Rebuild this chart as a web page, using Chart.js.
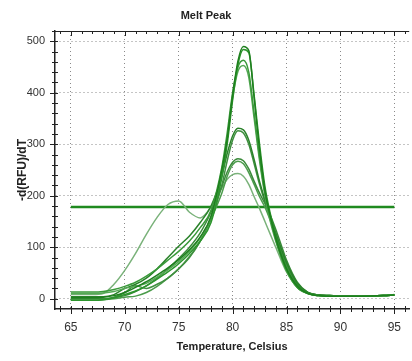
<!DOCTYPE html>
<html>
<head>
<meta charset="utf-8">
<script src="https://cdn.jsdelivr.net/npm/chart.js@4"></script>
<style>
  html, body { margin: 0; padding: 0; background: #fff; }
  #wrap { width: 412px; height: 361px; }
</style>
</head>
<body>
<div id="wrap"><canvas id="meltChart" width="412" height="361"></canvas></div>
<script>
// ---------- DATA ----------
const temps = [65,66,67,68,69,70,71,72,73,74,75,76,77,78,79,79.5,80,80.5,81,81.5,82,82.5,83,83.5,84,84.5,85,86,87,88,89,90,92,94,95];

const wellA = [2,2,2,3,6,12,22,33,46,60,76,95,120,160,250,310,395,462,490,482,390,290,210,160,118,85,58,24,10,6,5,5,5,6,7];
const wellB = [-3,-3,-3,-2,2,8,15,25,38,52,68,88,112,148,235,300,385,455,484,478,395,300,218,165,122,88,60,25,10,6,5,5,5,6,7];
const wellC = [13,13,13,14,18,24,32,44,58,75,92,112,138,172,255,322,400,450,463,440,360,275,205,155,115,82,55,22,10,6,5,5,5,6,8];
const wellD = [10,10,10,11,14,20,24,30,42,56,72,92,118,158,240,310,390,442,453,430,350,268,200,150,112,80,54,22,10,6,5,5,5,6,7];
const wellE = [4,4,4,4,8,20,28,40,58,80,102,122,148,180,238,282,316,331,328,308,270,228,192,160,128,98,70,30,12,7,6,5,5,6,7];
const wellF = [0,0,0,0,3,12,25,20,28,40,58,80,112,155,220,268,308,326,322,300,262,222,188,158,126,96,68,28,11,7,6,5,5,6,7];
const wellG = [0,0,0,0,2,6,14,25,40,58,78,100,128,168,218,246,265,272,268,252,228,205,185,162,135,105,75,32,12,7,6,5,5,6,7];
const wellH = [-3,-3,-3,-2,0,3,5,12,24,40,58,82,112,155,205,238,260,267,262,245,222,198,178,152,122,92,64,28,11,7,6,5,5,6,7];
const wellI = [8,8,8,10,28,55,88,125,158,183,190,168,157,178,215,232,241,243,238,222,198,175,150,125,100,75,52,22,10,6,5,5,5,6,7];

const wells = [wellA, wellB, wellC, wellD, wellE, wellF, wellG, wellH, wellI];
const wellColors = ['#1e7f1e','#2c952c','#3a9a3a','#55a855','#2a822a','#3f8f3f','#3a8a3a','#4c9c4c','#7ab27a'];

const thresholdY = 178;
const thresholdSpan = [65, 95];

const xTicks = [65,70,75,80,85,90,95];
const yTicks = [0,100,200,300,400,500];

const FONT = "'Liberation Sans', Arial, sans-serif";

// minor tick marks + top border (drawn through the scales)
const tickMarks = {
  id: 'tickMarks',
  afterDraw(chart) {
    const {ctx, chartArea: a, scales: {x, y}} = chart;
    ctx.save();
    ctx.strokeStyle = '#222';
    ctx.lineWidth = 1;
    ctx.beginPath(); ctx.moveTo(a.left, a.top + 0.5); ctx.lineTo(a.right, a.top + 0.5); ctx.stroke();
    ctx.beginPath();
    for (let t = 64; t <= 96; t++) {
      const px = Math.round(x.getPixelForValue(t)) + 0.5;
      const major = t % 5 === 0;
      ctx.moveTo(px, a.bottom - 3); ctx.lineTo(px, a.bottom + (major ? 5 : 3));
      ctx.moveTo(px, a.top); ctx.lineTo(px, a.top + (major ? 5 : 3));
    }
    for (let v = -20; v <= 520; v += 20) {
      const py = Math.round(y.getPixelForValue(v)) + 0.5;
      if (py < a.top || py > a.bottom) continue;
      const major = v % 100 === 0;
      ctx.moveTo(a.left - (major ? 5 : 3), py); ctx.lineTo(a.left + 3, py);
    }
    ctx.stroke();
    ctx.restore();
  }
};

document.addEventListener('DOMContentLoaded', function () {
  const ctx = document.getElementById('meltChart');

  const datasets = wells.map((vals, i) => ({
    label: 'Well ' + (i + 1),
    data: temps.map((t, k) => ({x: t, y: vals[k]})),
    borderColor: wellColors[i],
    borderWidth: 1.5,
    pointRadius: 0,
    fill: false,
    cubicInterpolationMode: 'monotone'
  }));

  // threshold line
  datasets.push({
    label: 'Threshold',
    data: thresholdSpan.map(t => ({x: t, y: thresholdY})),
    borderColor: '#1f8a1f',
    borderWidth: 2.5,
    pointRadius: 0,
    fill: false
  });

  new Chart(ctx, {
    type: 'line',
    data: { datasets: datasets },
    options: {
      responsive: false,
      animation: false,
      devicePixelRatio: 1,
      layout: { padding: 0 },
      plugins: {
        legend: { display: false },
        tooltip: { enabled: false },
        title: {
          display: true,
          text: 'Melt Peak',
          color: '#222',
          font: { family: FONT, size: 11, weight: 'bold' },
          padding: { top: 9.4, bottom: 8.4 }
        }
      },
      scales: {
        x: {
          type: 'linear',
          min: 63.53,
          max: 96.38,
          afterBuildTicks: s => { s.ticks = xTicks.map(v => ({ value: v })); },
          afterFit: s => { s.height = 52; },
          ticks: { color: '#333', font: { family: FONT, size: 12 }, padding: 11, maxRotation: 0 },
          grid: { color: '#8a8a8a', lineWidth: 1, drawTicks: false },
          border: { display: true, color: '#222', width: 1.5, dash: [1, 3] },
          title: {
            display: true,
            text: 'Temperature, Celsius',
            color: '#222',
            font: { family: FONT, size: 11, weight: 'bold' },
            padding: { top: 0, bottom: 7.4 }
          }
        },
        y: {
          min: -20,
          max: 520,
          afterBuildTicks: s => { s.ticks = yTicks.map(v => ({ value: v })); },
          afterFit: s => { s.width = 55; },
          ticks: { color: '#333', font: { family: FONT, size: 11 }, padding: 10 },
          grid: { color: '#8a8a8a', lineWidth: 1, drawTicks: false },
          border: { display: true, color: '#222', width: 1.5, dash: [1, 3] },
          title: {
            display: true,
            text: '-d(RFU)/dT',
            color: '#222',
            font: { family: FONT, size: 12, weight: 'bold' },
            padding: { top: 15, bottom: 0 }
          }
        }
      }
    },
    plugins: [tickMarks]
  });
});
</script>
</body>
</html>
